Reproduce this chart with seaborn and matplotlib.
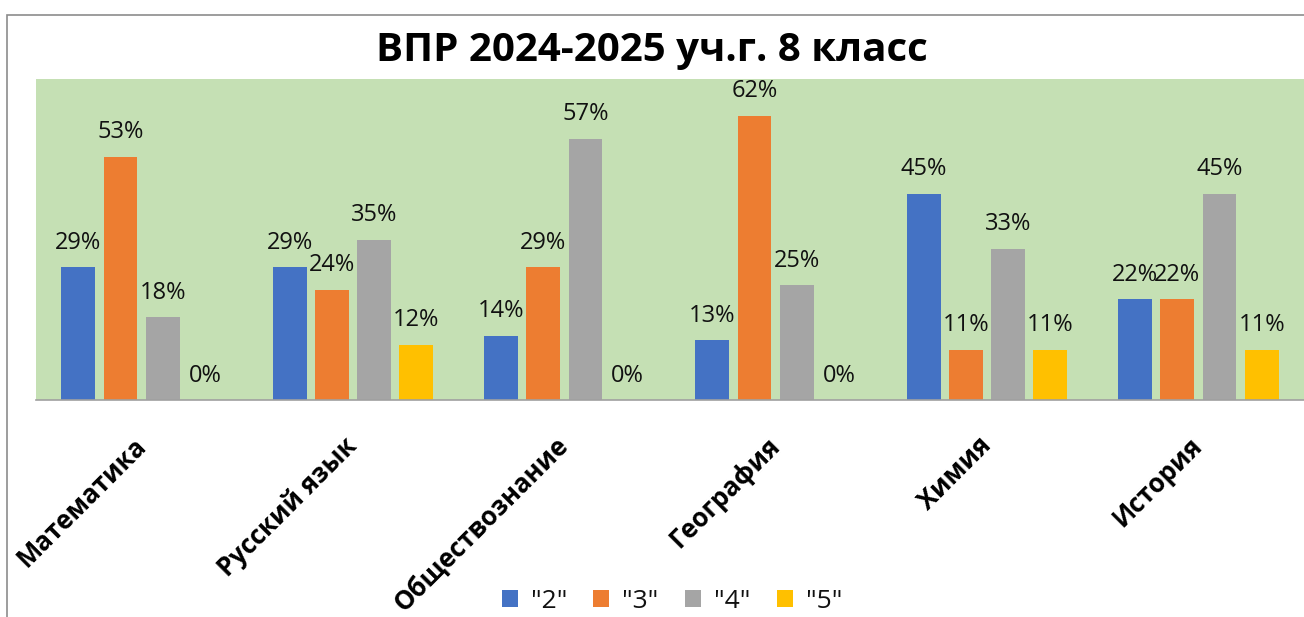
import matplotlib
matplotlib.use("Agg")
import matplotlib.pyplot as plt
import seaborn as sns
import pandas as pd
from matplotlib.patches import Rectangle

subjects = ["Математика", "Русский язык", "Обществознание", "География", "Химия", "История"]
grades = ['"2"', '"3"', '"4"', '"5"']
grade2 = [29, 29, 14, 13, 45, 22]
grade3 = [53, 24, 29, 62, 11, 22]
grade4 = [18, 35, 57, 25, 33, 45]
grade5 = [0, 12, 0, 0, 11, 11]
colors = ["#4472C4", "#ED7D31", "#A5A5A5", "#FFC000"]
title = "ВПР 2024-2025 уч.г. 8 класс"

series = [grade2, grade3, grade4, grade5]
rows = []
for g, vals in zip(grades, series):
    for s, v in zip(subjects, vals):
        rows.append({"subject": s, "grade": g, "value": v})
df = pd.DataFrame(rows)

sns.set_theme(style="white")
plt.rcParams["font.family"] = ["Open Sans", "DejaVu Sans"]

fig = plt.figure(figsize=(13.04, 6.17), dpi=100)
ax = fig.add_axes([36/1304, 1 - 400/617, 1 - 36/1304, (400 - 79)/617])
ax.set_facecolor("#C5E0B4")

sns.barplot(data=df, x="subject", y="value", hue="grade", order=subjects,
            hue_order=grades, palette=colors, width=0.8, gap=0.2,
            ax=ax, saturation=1, legend=True, linewidth=0, edgecolor="none")

for cont, vals in zip(ax.containers, series):
    ax.bar_label(cont, labels=[f"{v}%" for v in vals], padding=9,
                 fontsize=17, color="#111111")

ax.set_ylim(0, 70)
ax.set_xlim(-0.5, 5.5)
ax.set_yticks([])
ax.set_xlabel("")
ax.set_ylabel("")
for sp in ["top", "right", "left"]:
    ax.spines[sp].set_visible(False)
ax.spines["bottom"].set_color("#A0A0A0")
ax.spines["bottom"].set_linewidth(1.2)

ax.tick_params(axis="x", length=0, pad=30)
for lbl in ax.get_xticklabels():
    lbl.set_rotation(45)
    lbl.set_ha("right")
    lbl.set_va("center")
    lbl.set_rotation_mode("anchor")
    lbl.set_fontsize(18.5)
    lbl.set_fontweight("bold")
    lbl.set_color("black")

leg = ax.legend(loc="center", bbox_to_anchor=(672 / 1304, (617 - 601) / 617), bbox_transform=fig.transFigure,
                ncol=4, frameon=False, fontsize=19, handlelength=0.6, handleheight=0.6,
                handletextpad=0.5, columnspacing=1.0)
for t in leg.get_texts():
    t.set_color("#111111")

fig.text(0.5, 1 - 51/617, title, ha="center", va="center", fontsize=29, fontweight="bold",
         color="black")

fig.patches.append(Rectangle((7/1304, -0.1), 1.2, 1 - 15/617 + 0.1, transform=fig.transFigure,
                             fill=False, edgecolor="#8C8C8C", linewidth=1.2, zorder=0))

fig.savefig("out.png", dpi=100)
